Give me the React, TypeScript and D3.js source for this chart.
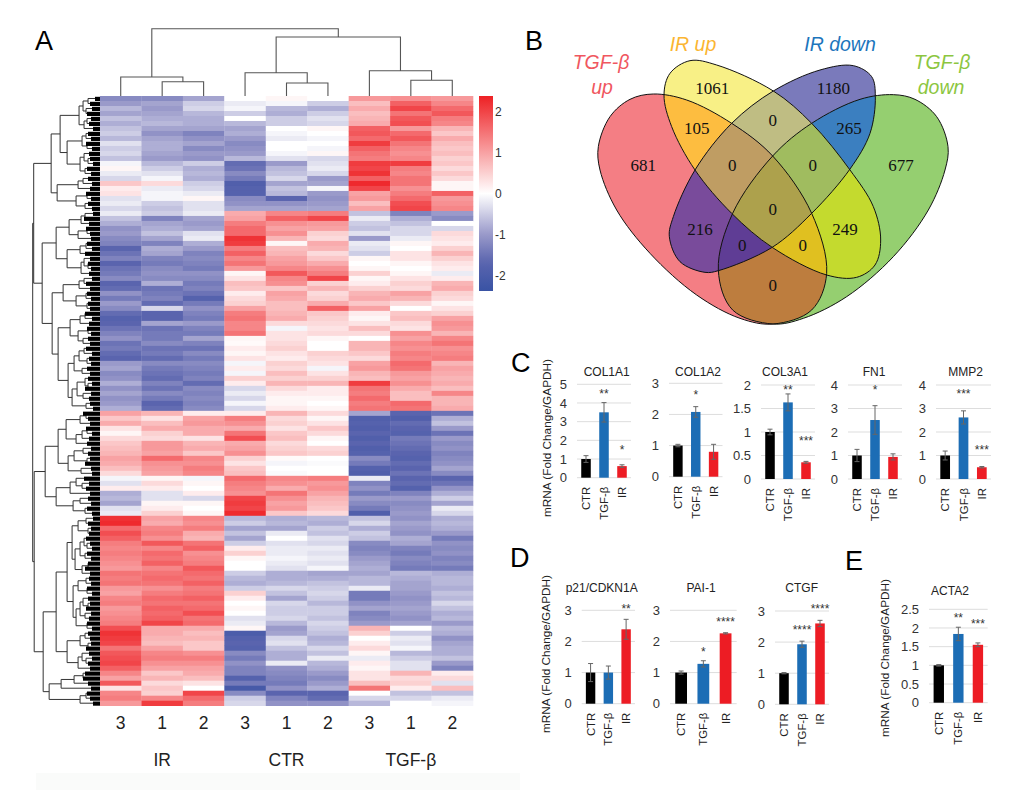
import * as d3 from "d3";

// heatmap, one array per sample, top row first
const ir3 = [
  -1.2,-1.0,-0.7,-0.9,-0.6,-0.8,-0.6,-0.5,-0.7,-0.3,
  -0.5,-0.4,-0.6,-0.1,0.1,-0.2,-0.4,0.6,0.2,0.3,
  -0.3,-0.2,-0.4,-0.2,-0.6,-0.8,-1.1,-1.0,-1.2,-1.3,
  -1.7,-1.5,-1.3,-1.7,-1.5,-1.4,-1.2,-1.7,-1.6,-1.1,
  -1.4,-1.0,-1.2,-1.6,-1.8,-1.7,-1.5,-1.3,-1.1,-1.5,
  -1.4,-1.6,-1.7,-1.0,-0.9,-1.2,-1.1,-0.8,-1.1,-0.9,-1.1,
  -1.0,-0.8,1.0,0.6,0.9,0.3,0.1,0.4,0.6,0.7,
  0.8,1.0,0.9,0.7,0.4,-0.1,-0.3,0.2,-0.8,-0.7,
  -0.9,-0.3,-0.2,2.2,2.3,1.6,1.9,1.7,1.4,1.3,
  1.4,1.3,1.2,1.1,1.5,1.4,1.5,1.1,1.0,1.3,
  1.4,1.1,1.2,1.3,1.4,1.9,2.2,2.1,2.0,1.5,
  1.8,1.9,2.0,1.7,1.3,1.0,1.8,0.3,1.3,1.4,1.1,
];
const ir1 = [
  -1.2,-0.9,-1.0,-0.9,-0.8,-0.7,-0.9,-1.1,-0.9,-0.8,
  -0.8,-0.9,-1.0,-0.7,-0.5,-0.3,-0.1,0.4,-0.2,-0.1,
  -0.1,-0.5,-0.6,-0.5,-1.3,-0.9,-0.8,-0.6,-0.9,-1.3,
  -0.8,-0.9,-1.3,-1.4,-1.2,-1.1,-1.2,-0.8,-1.5,-1.4,
  -1.3,-1.6,-0.4,-1.7,-1.7,-0.9,-1.5,-1.4,-1.4,-1.2,
  -1.5,-1.4,-1.6,-1.2,-1.4,-1.5,-1.6,-1.3,-1.5,-1.2,-1.4,
  -1.7,-1.6,0.8,0.3,0.7,0.9,0.5,0.4,1.1,1.1,
  1.0,1.6,1.2,1.1,1.0,0.1,0.4,0.2,-0.3,-0.3,
  0.1,0.2,0.5,1.0,0.9,1.3,1.4,1.2,1.8,1.3,
  1.6,1.5,1.7,1.3,1.5,1.6,1.5,1.2,1.4,1.6,
  1.5,1.7,1.6,1.7,2.0,0.9,0.9,0.8,0.7,1.0,
  1.3,1.4,1.2,1.0,0.6,0.8,0.4,0.6,0.5,1.3,2.1,
];
const ir2 = [
  -0.9,-0.5,-0.4,-0.7,-0.8,-0.8,-0.9,-1.3,-1.1,-0.9,
  -1.2,-1.0,-1.1,-0.5,-0.8,-0.7,-0.8,-0.5,-0.4,-0.2,
  0.1,-0.3,-0.3,-0.2,-0.9,-1.0,-0.9,-0.3,-0.2,-0.8,
  -1.0,-1.3,-1.2,-1.3,-1.4,-1.1,-1.2,-1.4,-1.3,-1.5,
  -1.8,-1.4,-1.1,-1.3,-1.4,-1.0,-1.3,-1.4,-0.9,-1.3,
  -1.5,-1.2,-1.4,-1.2,-1.3,-1.4,-1.3,-1.6,-1.2,-1.3,-1.2,
  -1.3,-1.2,0.2,1.0,1.1,0.9,0.9,0.3,0.8,0.9,
  0.6,1.3,1.2,1.4,1.3,-0.1,0.1,0.0,0.2,-0.4,
  0.1,0.0,0.1,1.3,1.2,1.4,0.9,0.8,1.5,1.7,
  1.2,1.3,1.4,1.8,1.6,1.5,1.7,1.4,1.5,1.7,
  1.5,1.6,1.9,1.5,1.6,0.9,0.7,0.8,0.6,0.6,
  1.2,1.4,1.2,1.0,0.9,0.7,0.3,0.0,2.0,1.6,1.4,
];
const ctr3 = [
  0.0,-0.2,-0.1,-0.5,0.0,-0.7,-0.9,-0.8,-1.0,-1.2,
  -1.1,-1.0,-0.7,-1.6,-1.5,-1.2,-1.4,-1.9,-1.8,-1.8,
  -1.2,-1.1,-0.9,0.9,1.0,1.4,1.6,1.6,2.2,2.1,
  1.4,1.7,1.3,1.5,1.1,0.1,0.3,0.7,0.6,0.2,
  0.4,0.5,1.0,1.4,1.5,1.3,1.3,1.5,0.1,0.05,
  0.2,0.1,0.3,-0.1,0.2,-0.1,0.5,0.2,-0.4,-0.2,-0.4,
  -0.1,-0.4,0.2,1.4,1.2,0.9,1.5,1.9,0.9,1.0,
  1.2,0.5,0.3,0.6,0.7,1.6,1.4,1.3,1.2,2.0,
  2.1,2.0,2.3,-0.7,-0.5,-0.9,-0.6,-0.9,-0.5,0.2,
  0.5,0.1,0.0,0.0,-0.5,-0.7,-0.8,-0.5,0.5,0.2,
  0.0,0.1,0.0,-0.3,-0.2,0.1,-2.0,-1.8,-1.7,-1.8,
  -1.2,-1.4,-1.1,-1.3,-1.3,-1.8,-1.4,-2.1,-1.2,-0.5,-0.4,
];
const ctr1 = [
  0.1,-0.1,-0.7,-0.8,-0.5,-0.5,0.0,-0.1,-0.2,0.0,
  0.0,-0.1,-0.3,-1.0,-0.7,-0.6,-0.4,-0.9,-0.6,-0.7,
  -1.7,-1.1,-0.9,1.3,1.7,1.2,1.0,1.2,0.8,0.1,
  0.7,0.8,1.0,1.1,1.3,1.8,1.3,1.2,0.6,1.0,
  0.9,0.7,0.7,0.8,0.9,0.4,-0.1,0.3,0.3,0.4,
  0.5,0.3,0.2,0.5,0.4,0.7,0.5,0.8,0.4,0.2,0.1,
  0.1,0.2,0.8,0.4,0.5,0.3,0.6,0.7,0.4,0.5,
  0.6,0.05,-0.1,0.0,-0.05,1.3,1.2,0.9,1.5,1.2,
  1.0,1.1,0.6,-0.8,-0.7,-0.9,-0.2,0.0,-0.3,-0.2,
  -0.2,-0.1,-0.2,-0.3,-0.8,-0.8,-0.7,-0.4,-0.6,-0.9,
  -0.4,-0.5,-0.5,-0.4,-0.7,-1.0,-0.9,-0.4,-0.3,-0.6,
  -0.8,-0.8,-0.2,-1.1,-1.2,-1.3,-1.4,-1.1,-1.7,-1.3,-1.1,
];
const ctr2 = [
  0.0,-0.5,-0.8,-0.5,-0.3,-0.4,0.1,0.0,-0.1,0.0,
  -0.1,0.1,-0.4,-0.3,-0.2,-0.4,-1.0,-0.9,-0.1,-1.0,
  -1.1,-1.0,-0.9,1.4,2.0,1.1,1.0,0.5,0.4,0.9,
  0.8,0.4,0.6,0.9,1.2,1.4,2.0,0.5,0.8,0.4,
  0.5,0.9,1.7,0.6,0.5,0.4,0.3,0.4,0.1,0.0,
  0.0,0.5,0.4,0.3,-0.1,0.3,0.5,0.8,0.2,0.2,0.1,
  0.0,0.1,0.4,0.1,0.3,0.6,0.4,0.1,0.0,0.4,
  0.5,0.0,-0.05,0.0,0.0,1.4,1.1,1.2,1.0,0.8,
  0.7,0.6,0.4,-0.7,-0.8,-0.5,-0.6,-0.3,-0.4,-0.2,
  -0.3,-0.2,-0.3,-0.1,-0.9,-0.8,-0.6,-0.5,-0.4,-0.5,
  -0.7,-0.5,-0.5,-0.6,-0.4,-0.5,-0.6,-0.8,-0.7,-0.4,
  -0.6,-0.2,-0.7,-0.8,-1.0,-1.2,-1.0,-0.8,-1.7,-1.6,-1.1,
];
const tgf3 = [
  1.1,0.7,0.9,0.7,0.8,0.9,1.7,1.8,1.6,2.1,
  1.7,1.5,1.4,2.1,2.0,2.2,1.7,2.3,2.0,1.0,
  1.1,0.7,1.0,-0.6,-0.2,-0.5,-0.6,-0.3,-1.0,-0.2,
  -0.3,-0.5,0.1,0.0,0.1,0.5,0.1,0.2,0.5,0.8,
  0.9,0.6,1.0,0.2,0.1,0.3,0.7,0.4,0.0,0.8,
  0.8,0.6,0.4,1.0,1.1,0.8,0.7,2.1,1.5,1.4,1.6,
  1.4,1.5,-0.9,-1.9,-1.8,-1.9,-1.7,-1.9,-1.7,-1.9,
  -1.8,-1.2,-1.4,-1.8,-1.9,-0.2,-1.3,-1.1,-1.4,-1.0,
  -1.2,-1.4,-1.9,-0.6,-0.4,-0.8,-0.5,-0.6,-1.2,-1.3,
  -1.2,-1.0,-0.9,-0.8,-0.9,-0.7,-0.7,-0.2,-1.4,-1.4,
  -1.1,-0.9,-1.3,-1.2,-1.0,0.8,0.5,0.0,0.2,0.4,
  0.1,-0.2,0.2,0.1,0.3,0.3,0.7,1.5,0.0,-0.4,-0.7,
];
const tgf1 = [
  1.2,1.7,2.0,1.5,1.8,1.9,1.1,1.6,1.8,1.5,
  1.3,1.2,1.3,2.1,1.4,1.3,1.5,1.5,1.2,1.4,
  1.6,1.9,2.0,-1.3,-0.8,-0.6,-0.4,-0.4,-0.2,0.1,
  0.0,0.3,0.3,0.1,0.0,0.1,0.3,0.5,0.4,1.0,
  0.8,0.4,0.0,0.6,0.7,0.4,0.3,1.2,1.0,1.3,
  1.2,1.4,1.3,1.6,1.5,1.1,1.0,1.2,0.9,0.7,0.7,
  1.6,1.5,-1.7,-1.9,-1.6,-1.7,-1.8,-1.4,-1.5,-1.6,
  -1.7,-1.8,-1.6,-1.7,-1.5,-1.7,-1.6,-1.8,-1.3,-1.0,
  -1.2,-1.1,-1.0,-1.1,-0.9,-1.0,-1.1,-0.8,-0.9,-1.3,
  -1.4,-1.2,-1.3,-1.4,-0.7,-0.8,-0.9,-0.9,-1.0,-1.1,
  -1.0,-0.9,-1.0,-1.1,-0.9,0.0,-0.5,-0.2,-0.3,-0.1,
  -0.7,-0.5,-0.3,-0.3,0.8,0.4,0.5,0.2,-0.6,-0.4,0.0,
];
const tgf2 = [
  1.1,1.3,1.6,1.8,1.4,1.3,0.8,0.6,0.9,0.7,
  0.6,0.7,0.5,0.6,0.4,0.6,0.4,0.1,0.1,1.7,
  1.1,1.2,1.3,-1.0,-1.2,0.0,-0.4,0.4,0.3,0.2,
  0.5,0.8,0.5,0.3,0.2,-0.2,0.2,0.8,0.9,0.5,
  0.4,0.1,0.3,0.5,1.0,1.2,1.1,0.8,1.3,1.5,
  1.2,1.3,1.4,0.8,1.0,0.9,0.8,0.9,0.7,1.3,0.8,
  0.8,0.9,-1.5,-0.8,-0.6,-1.0,-1.5,-1.0,-1.2,-1.1,
  -1.3,-1.2,-1.1,-0.9,-1.2,-1.7,-1.5,-1.1,-0.8,-0.5,
  -0.9,-0.2,-0.4,-0.8,-0.7,-0.8,-1.0,-1.4,-1.1,-1.2,
  -1.1,-1.3,-1.2,-1.4,-0.8,-0.7,-0.7,-0.8,-0.6,-0.7,
  -0.4,-0.6,-0.8,-0.7,-1.0,-0.7,-0.8,-1.1,-0.9,-0.8,
  -0.8,-0.6,-1.0,-1.3,0.2,0.4,-0.3,0.7,-0.6,-0.2,-0.1,
];
const heatColumns = [ir3, ir1, ir2, ctr3, ctr1, ctr2, tgf3, tgf1, tgf2];
const sampleLabels = ["3", "1", "2", "3", "1", "2", "3", "1", "2"];
const groupLabels = ["IR", "CTR", "TGF-β"];
const legendTicks = [2, 1, 0, -1, -2];

// merge heights between neighbouring leaves, they fix the whole dendrogram
const colMerges = [19, 14.3, 67.3, 23.3, 13, 59, 25.3, 15.7];
const rowMerges = [
  12,17,14,21,13,16,40,14,18,13,33,16,12,20,15,49,17,22,43,13,
  24,15,66.5,15,19,31,13,22,44,14,20,33,16,12,19,58,16,21,37,14,
  24,13,48,15,20,30,12,22,17,42,16,21,13,26,18,32,15,12,23,17,
  28,14,67.5,14,20,34,13,18,24,42,17,26,13,32,19,55,24,18,30,44,
  20,27,15,66,14,22,12,28,16,13,20,15,25,12,18,33,14,22,13,27,
  17,12,20,15,24,13,44,15,20,12,33,18,14,22,57,17,26,39,51,14,
  20,
];
// how far the packed leaves of each row stick out of the dendrogram
const rowLeafDepth = [
  5,10,8,13,9,11,7,12,9,14,8,11,10,7,13,9,12,8,10,14,
  9,12,8,7,16,11,14,10,9,13,8,15,10,12,9,11,8,14,10,13,
  9,12,10,15,8,11,13,9,12,10,14,8,11,9,13,10,12,8,15,9,
  11,10,7,17,12,10,14,8,11,13,9,12,10,15,9,8,16,11,14,10,
  12,9,13,8,7,12,9,11,14,10,8,13,9,12,15,10,11,9,13,8,
  12,10,14,9,11,13,8,12,10,9,14,11,8,12,10,15,17,12,9,13,
  10,7,
];

// venn
const vennCounts = ["681", "1061", "1180", "677", "105", "0", "265", "0", "0", "216", "0", "249", "0", "0", "0"];
const vennCountAt = [
  [400,435],[607,205],[970,205],[1173,435],[560,325],[788,300],[1017,325],[667,435],[908,435],
  [570,628],[788,568],[1005,628],[697,676],[878,676],[788,797],
];
const redOutline = [
  [430,222],[530,240],[665,310],[788,408],[905,580],[950,760],[905,870],[790,912],[690,895],
  [560,825],[420,700],[320,570],[270,450],[265,380],[300,290],[360,238],
];
const yellowOutline = [
  [540,122],[620,135],[790,213],[905,310],[1020,450],[1090,560],[1112,660],[1095,735],[1040,772],
  [950,765],[788,683],[665,580],[555,450],[485,320],[462,225],[480,160],
];
const blueOutline = [
  [1030,137],[1085,170],[1096,230],[1080,340],[1020,447],[905,580],[785,683],[625,752],[585,757],
  [510,725],[478,650],[490,590],[555,450],[665,310],[790,213],[930,150],
];
const greenOutline = [
  [1150,224],[1215,238],[1280,290],[1314,380],[1305,450],[1255,570],[1150,710],[1010,830],[880,895],
  [788,912],[668,870],[625,750],[668,580],[788,408],[905,310],[1050,238],
];
const vennShapes = [redOutline, yellowOutline, blueOutline, greenOutline];
const vennRegions: [number[], string][] = [
  [[0], "#f47e84"], [[1], "#f8f086"], [[2], "#7a7abb"], [[3], "#95cf70"],
  [[0, 1], "#fdbd40"], [[1, 2], "#bfbd83"], [[2, 3], "#3b7fc0"], [[0, 2], "#794b9b"], [[0, 3], "#bd7d3e"], [[1, 3], "#c4da2e"],
  [[0, 1, 2], "#bf9d63"], [[1, 2, 3], "#a0bc5f"], [[0, 2, 3], "#5f3d95"], [[0, 1, 3], "#e0c020"],
  [[0, 1, 2, 3], "#ada14c"],
];

// qPCR bars
const conditions = ["CTR", "TGF-β", "IR"];
const barColors = ["#000000", "#1c6db5", "#ed1c24"];

const col1a1 = [1, 3.5, 0.62];
const col1a1Err = [0.18, 0.52, 0.07];
const col1a2 = [1, 2.08, 0.8];
const col1a2Err = [0.04, 0.17, 0.24];
const col3a1 = [1, 1.63, 0.355];
const col3a1Err = [0.06, 0.18, 0.02];
const fn1 = [1, 2.51, 0.94];
const fn1Err = [0.26, 0.61, 0.13];
const mmp2 = [1, 2.62, 0.5];
const mmp2Err = [0.19, 0.28, 0.03];
const p21 = [1, 1, 2.39];
const p21Err = [0.29, 0.21, 0.32];
const pai1 = [1, 1.28, 2.26];
const pai1Err = [0.05, 0.1, 0.02];
const ctgf = [1, 1.93, 2.6];
const ctgfErr = [0.02, 0.1, 0.1];
const acta2 = [1, 1.84, 1.55];
const acta2Err = [0.02, 0.18, 0.05];

interface PanelProps {
  title: string;
  values: number[];
  errors: number[];
  stars: [string, string, string];
  starY: [number, number, number];
  yMax: number;
  step: number;
  left: number;
  right: number;
  y0: number;
  yTop: number;
  titleX: number;
  titleY: number;
}

const sans = "Liberation Sans";
const serif = "Liberation Serif";
const heatColor = d3
  .scaleLinear<string>()
  .domain([-2.4, -1.7, -1, 0, 2.4])
  .range(["#3953a4", "#5a64ae", "#9a9aca", "#ffffff", "#ee2024"]);

function mergePath(merges: number[], leaf: (i: number) => number, point: (h: number, c: number) => [number, number]) {
  const path = d3.path();
  const walk = (lo: number, hi: number): { c: number; h: number } => {
    if (lo === hi) return { c: leaf(lo), h: 0 };
    let cut = lo;
    for (let i = lo; i < hi; i++) if (merges[i] > merges[cut]) cut = i;
    const a = walk(lo, cut);
    const b = walk(cut + 1, hi);
    const h = merges[cut];
    path.moveTo(...point(a.h, a.c));
    path.lineTo(...point(h, a.c));
    path.lineTo(...point(h, b.c));
    path.lineTo(...point(b.h, b.c));
    return { c: (a.c + b.c) / 2, h };
  };
  walk(0, merges.length);
  return path.toString();
}

function BarPanel({ title, values, errors, stars, starY, yMax, step, left, right, y0, yTop, titleX, titleY }: PanelProps) {
  const x = d3.scaleBand<string>().domain(conditions).range([left, right]).paddingInner(0.47).paddingOuter(0.235);
  const y = d3.scaleLinear().domain([0, yMax]).range([y0, yTop]);
  const ticks = d3.range(0, yMax + 0.001, step);
  return (
    <g fontFamily={sans}>
      <text x={titleX} y={titleY} fontSize={12} textAnchor="middle" fill="#222">{title}</text>
      {ticks.map((t) => (
        <g key={t}>
          <line x1={left} x2={right} y1={y(t)} y2={y(t)} stroke="#dddddd" strokeWidth={1} />
          <text x={left - 10} y={y(t)} dy="0.36em" fontSize={13} textAnchor="end" fill="#333">{t}</text>
        </g>
      ))}
      {conditions.map((c, i) => {
        const cx = x(c)! + x.bandwidth() / 2;
        return (
          <g key={c}>
            <rect x={x(c)} y={y(values[i])} width={x.bandwidth()} height={y0 - y(values[i])} fill={barColors[i]} />
            <path
              d={`M${cx},${y(values[i] - errors[i])}V${y(values[i] + errors[i])}M${cx - 2.5},${y(values[i] - errors[i])}h5M${cx - 2.5},${y(values[i] + errors[i])}h5`}
              stroke="#666"
              strokeWidth={1}
              fill="none"
            />
            <text x={cx} y={starY[i] + 6} fontSize={12} textAnchor="middle" fill="#333">{stars[i]}</text>
            <text
              transform={`translate(${cx},${y0 + 9}) rotate(-90)`}
              dy="0.36em"
              fontSize={11.4}
              textAnchor="end"
              fill="#222"
            >
              {c}
            </text>
          </g>
        );
      })}
    </g>
  );
}

function YTitle({ x, y }: { x: number; y: number }) {
  return (
    <text transform={`translate(${x},${y}) rotate(-90)`} dy="0.36em" fontFamily={sans} fontSize={11.8} textAnchor="middle" fill="#222">
      mRNA (Fold Change/GAPDH)
    </text>
  );
}

function Letter({ x, y, t }: { x: number; y: number; t: string }) {
  return <text x={x} y={y} fontFamily={sans} fontSize={27} fill="#000">{t}</text>;
}

export default function App() {
  const rowCount = heatColumns[0].length;
  const xCol = d3.scaleBand<number>().domain(d3.range(9)).range([100, 473]);
  const yRow = d3.scaleBand<number>().domain(d3.range(rowCount)).range([96, 705.7]);
  const legendY = d3.scaleLinear().domain([2.37, -2.37]).range([96, 291]);
  const legendStops = d3.range(-2.4, 2.41, 0.2);

  const topH = d3.scaleLinear().domain([0, 67.3]).range([96, 28.7]);
  const sideH = d3.scaleLinear().domain([0, 67.5]).range([100, 32.7]);
  const topPath = mergePath(colMerges, (i) => xCol(i)! + xCol.bandwidth() / 2, (h, c) => [c, topH(h)]);
  const sidePath = mergePath(rowMerges, (i) => yRow(i)! + yRow.bandwidth() / 2, (h, c) => [sideH(h), c]);

  const vx = (z: number) => 510 + z / 3;
  const vy = (z: number) => 20 + z / 3;
  const outline = d3
    .line<number[]>()
    .x((p) => vx(p[0]))
    .y((p) => vy(p[1]))
    .curve(d3.curveCatmullRomClosed.alpha(0.5));
  const vennPaths = vennShapes.map((s) => outline(s)!);

  return (
    <svg width={1020} height={798} style={{ position: "absolute", left: 0, top: 0, background: "#fff" }}>
      <defs>
        <linearGradient id="legendFill" x1="0" x2="0" y1="1" y2="0">
          {legendStops.map((v) => (
            <stop key={v} offset={(v + 2.4) / 4.8} stopColor={heatColor(v)} />
          ))}
        </linearGradient>
        {vennPaths.map((d, i) => (
          <clipPath id={`venn${i}`} key={i}>
            <path d={d} />
          </clipPath>
        ))}
      </defs>

      <rect x={36} y={773} width={484} height={17} fill="#fafbfa" />

      {/* A */}
      <Letter x={35} y={50} t="A" />
      {heatColumns.map((col, c) => (
        <g key={c}>
          {col.map((v, r) => (
            <rect key={r} x={xCol(c)} y={yRow(r)} width={xCol.bandwidth() + 0.3} height={yRow.bandwidth() + 0.3} fill={heatColor(v)} />
          ))}
        </g>
      ))}
      <path d={topPath} fill="none" stroke="#555" strokeWidth={1.1} />
      <path d={sidePath} fill="none" stroke="#333" strokeWidth={1} />
      {rowLeafDepth.map((d, r) => (
        <rect key={r} x={100 - d} y={yRow(r)! + 0.8} width={d} height={yRow.bandwidth() - 0.8} fill="#000" />
      ))}
      <rect x={479} y={96} width={14} height={195} fill="url(#legendFill)" />
      {legendTicks.map((t) => (
        <text key={t} x={495} y={legendY(t)} dy="0.36em" fontFamily={sans} fontSize={12} fill="#333">{t}</text>
      ))}
      {sampleLabels.map((s, i) => (
        <text key={i} x={xCol(i)! + xCol.bandwidth() / 2} y={729} fontFamily={sans} fontSize={17.5} textAnchor="middle" fill="#222">{s}</text>
      ))}
      {groupLabels.map((s, i) => (
        <text key={s} x={xCol(i * 3 + 1)! + xCol.bandwidth() / 2} y={766} fontFamily={sans} fontSize={17.5} textAnchor="middle" fill="#222">{s}</text>
      ))}

      {/* B */}
      <Letter x={525} y={50} t="B" />
      {vennRegions.map(([sets, color], i) =>
        sets.slice(1).reduce(
          (inner, s) => <g clipPath={`url(#venn${s})`}>{inner}</g>,
          <path d={vennPaths[sets[0]]} fill={color} />
        )
      ).map((el, i) => <g key={i}>{el}</g>)}
      {vennPaths.map((d, i) => (
        <path key={i} d={d} fill="none" stroke="#111" strokeWidth={1} />
      ))}
      {vennCounts.map((n, i) => (
        <text key={i} x={vx(vennCountAt[i][0])} y={vy(vennCountAt[i][1])} dy="0.34em" fontFamily={serif} fontSize={17} textAnchor="middle" fill="#111">{n}</text>
      ))}
      <g fontFamily={sans} fontStyle="italic" fontSize={19.5} textAnchor="middle">
        <text x={601} y={69} fill="#f0575f">TGF-β</text>
        <text x={602} y={94} fill="#f0575f">up</text>
        <text x={693} y={51} fill="#fbb531">IR up</text>
        <text x={840} y={51} fill="#1c75bc">IR down</text>
        <text x={942} y={69} fill="#8cc63f">TGF-β</text>
        <text x={941} y={94} fill="#8cc63f">down</text>
      </g>

      {/* C */}
      <Letter x={511} y={372} t="C" />
      <YTitle x={547} y={438} />
      <BarPanel title="COL1A1" values={col1a1} errors={col1a1Err} stars={["", "**", "*"]} starY={[0, 392, 448]} yMax={5} step={1} left={577} right={631} y0={477.7} yTop={384.3} titleX={606.7} titleY={376} />
      <BarPanel title="COL1A2" values={col1a2} errors={col1a2Err} stars={["", "*", ""]} starY={[0, 393, 0]} yMax={3} step={1} left={669} right={722.5} y0={476.7} yTop={383.3} titleX={698} titleY={376} />
      <BarPanel title="COL3A1" values={col3a1} errors={col3a1Err} stars={["", "**", "***"]} starY={[0, 388, 439]} yMax={2} step={0.5} left={761} right={815} y0={479} yTop={385} titleX={785} titleY={376} />
      <BarPanel title="FN1" values={fn1} errors={fn1Err} stars={["", "*", ""]} starY={[0, 388, 0]} yMax={4} step={1} left={848} right={902} y0={479} yTop={385} titleX={874} titleY={376} />
      <BarPanel title="MMP2" values={mmp2} errors={mmp2Err} stars={["", "***", "***"]} starY={[0, 392, 448]} yMax={4} step={1} left={936} right={991} y0={479} yTop={385} titleX={965.7} titleY={376} />

      {/* D */}
      <Letter x={510} y={567} t="D" />
      <YTitle x={546} y={654} />
      <BarPanel title="p21/CDKN1A" values={p21} errors={p21Err} stars={["", "", "**"]} starY={[0, 0, 607]} yMax={3} step={1} left={581.7} right={635} y0={703.7} yTop={610.3} titleX={601.7} titleY={592} />
      <BarPanel title="PAI-1" values={pai1} errors={pai1Err} stars={["", "*", "****"]} starY={[0, 650, 620]} yMax={3} step={1} left={670} right={736.7} y0={703.7} yTop={610.3} titleX={701} titleY={592} />
      <BarPanel title="CTGF" values={ctgf} errors={ctgfErr} stars={["", "****", "****"]} starY={[0, 628, 607]} yMax={3} step={1} left={775} right={829} y0={704.3} yTop={611} titleX={801.7} titleY={592} />

      {/* E */}
      <Letter x={845} y={570} t="E" />
      <YTitle x={885} y={658} />
      <BarPanel title="ACTA2" values={acta2} errors={acta2Err} stars={["", "**", "***"]} starY={[0, 616, 622]} yMax={2.5} step={0.5} left={929} right={987.7} y0={702.7} yTop={609.3} titleX={950} titleY={595} />
    </svg>
  );
}
